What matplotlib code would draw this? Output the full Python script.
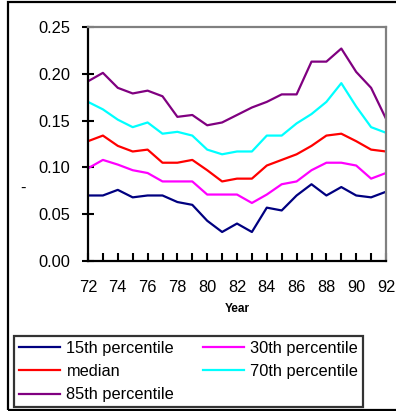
import matplotlib
matplotlib.use("Agg")
import matplotlib.pyplot as plt
from matplotlib.patches import Rectangle
from matplotlib.ticker import MultipleLocator

plt.rcParams['font.family'] = ['Liberation Sans', 'DejaVu Sans']

# Percentiles by year, 1972-1992
years = list(range(72, 93))
p15 = [0.070, 0.070, 0.076, 0.068, 0.070, 0.070, 0.063, 0.060, 0.043, 0.031, 0.040,
       0.031, 0.057, 0.054, 0.070, 0.082, 0.070, 0.079, 0.070, 0.068, 0.074]
p30 = [0.099, 0.108, 0.103, 0.097, 0.094, 0.085, 0.085, 0.085, 0.071, 0.071, 0.071,
       0.062, 0.071, 0.082, 0.085, 0.097, 0.105, 0.105, 0.102, 0.088, 0.094]
median = [0.128, 0.134, 0.123, 0.117, 0.119, 0.105, 0.105, 0.108, 0.097, 0.085, 0.088,
          0.088, 0.102, 0.108, 0.114, 0.123, 0.134, 0.136, 0.128, 0.119, 0.117]
p70 = [0.170, 0.162, 0.151, 0.143, 0.148, 0.136, 0.138, 0.134, 0.119, 0.114, 0.117,
       0.117, 0.134, 0.134, 0.147, 0.157, 0.170, 0.190, 0.165, 0.143, 0.137]
p85 = [0.192, 0.201, 0.185, 0.179, 0.182, 0.176, 0.154, 0.156, 0.145, 0.148, 0.156,
       0.164, 0.170, 0.178, 0.178, 0.213, 0.213, 0.227, 0.202, 0.185, 0.152]

W, H = 396, 411
fig = plt.figure(figsize=(W / 100, H / 100), dpi=100)
ax = fig.add_axes([88 / W, 1 - 261 / H, (386 - 88) / W, (261 - 27) / H])

lw = 1.6
l15, = ax.plot(years, p15, color='#000080', lw=lw, label='15th percentile')
l30, = ax.plot(years, p30, color='#FF00FF', lw=lw, label='30th percentile')
lmed, = ax.plot(years, median, color='#FF0000', lw=lw, label='median')
l70, = ax.plot(years, p70, color='#00FFFF', lw=lw, label='70th percentile')
l85, = ax.plot(years, p85, color='#800080', lw=lw, label='85th percentile')

ax.set_xlim(72, 92)
ax.set_ylim(0, 0.25)
ax.xaxis.set_major_locator(MultipleLocator(2))
ax.xaxis.set_minor_locator(MultipleLocator(1))
ax.yaxis.set_major_locator(MultipleLocator(0.05))
ax.yaxis.set_major_formatter(lambda v, pos: f"{v:.2f}")

fs = 11.8
ax.tick_params(axis='x', which='both', direction='in', length=6, width=1.5,
               pad=14, labelsize=fs, top=False)
ax.tick_params(axis='y', direction='inout', length=8, width=1.5, pad=9,
               labelsize=fs, right=False)

for side in ('left', 'bottom'):
    ax.spines[side].set_linewidth(1.6)
    ax.spines[side].set_color('black')
for side in ('right', 'top'):
    ax.spines[side].set_linewidth(1.6)
    ax.spines[side].set_color('#808080')

fig.text(237 / W, 1 - 309 / H, 'Year', ha='center', va='center',
         fontsize=8.5, fontweight='bold')
fig.text(23 / W, 1 - 188 / H, '-', ha='center', va='center', fontsize=fs)

leg = fig.legend([l15, lmed, l85, l30, l70],
                 [l.get_label() for l in (l15, lmed, l85, l30, l70)],
                 ncol=2, loc='upper left',
                 bbox_to_anchor=(14 / W, 1 - 336 / H), borderaxespad=0,
                 fontsize=fs, frameon=True, fancybox=False, shadow=False,
                 handlelength=2.5, handletextpad=0.4, columnspacing=1.75,
                 labelspacing=0.5, borderpad=0.3)
leg.get_frame().set_edgecolor('black')
leg.get_frame().set_linewidth(1.6)

# outer chart frame, open on the right
fig.patches.append(Rectangle((7.5 / W, 1 - 409.5 / H), 1.1, (409.5 - 2.5) / H,
                             transform=fig.transFigure, fill=False,
                             edgecolor='black', lw=1.6, clip_on=False))

fig.savefig('out.png', dpi=100)
